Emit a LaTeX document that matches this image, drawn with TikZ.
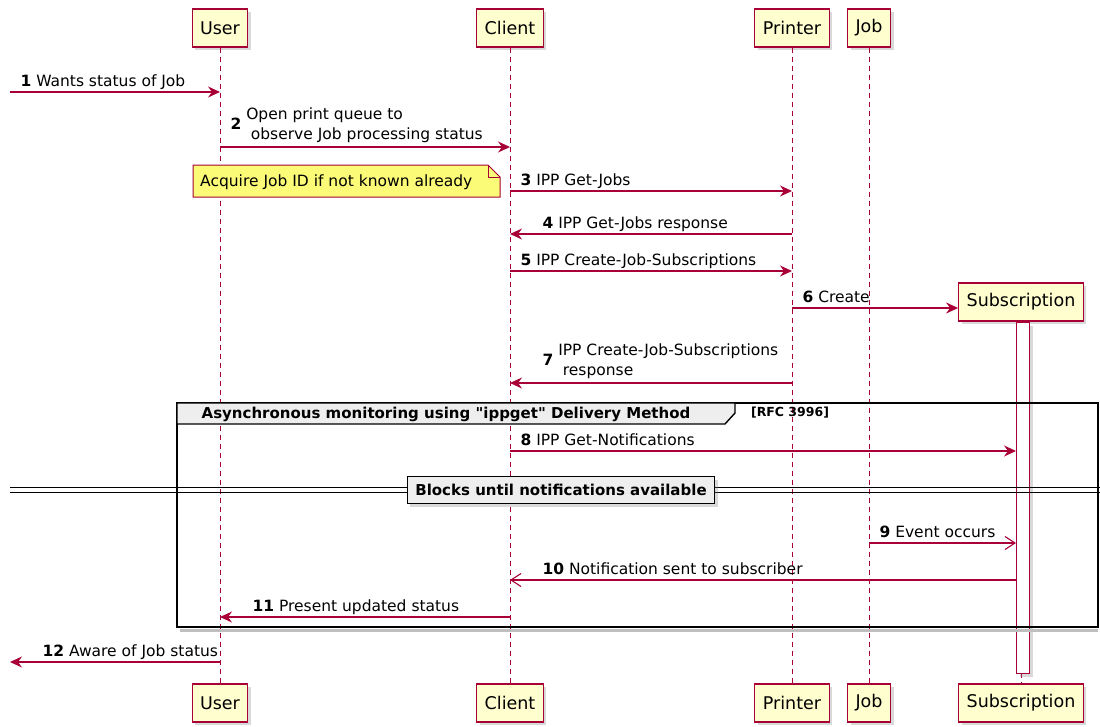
\documentclass[tikz,border=0pt]{standalone}
\usepackage{fontspec}
\setmainfont{DejaVu Sans}
\usepackage{tikz}
\usetikzlibrary{arrows.meta, shadows, positioning}

\definecolor{umlred}{HTML}{A80036}
\definecolor{umlbox}{HTML}{FEFECE}
\definecolor{umlnote}{HTML}{FBFB77}
\definecolor{umlgrey}{HTML}{EEEEEE}

\tikzset{
    actor/.style={draw=umlred, fill=umlbox, line width=1.1pt, minimum height=38pt,
        inner xsep=8pt, font=\fontsize{17.5}{19}\selectfont,
        drop shadow={shadow xshift=3pt, shadow yshift=-3pt, opacity=0.3}},
    lifeline/.style={umlred, line width=0.9pt, dash pattern=on 5pt off 4pt},
    actbar/.style={draw=umlred, fill=white, line width=1pt, inner sep=0pt,
        drop shadow={shadow xshift=3pt, shadow yshift=-3pt, opacity=0.3}},
    msg/.style={umlred, line width=1.1pt, -{Stealth[length=12pt, width=11pt, inset=4pt]}},
    amsg/.style={umlred, line width=1.1pt, -{Straight Barb[length=10pt, width=13pt]}},
    lbl/.style={black, font=\fontsize{15.5}{19.5}\selectfont, anchor=base west,
        inner sep=0pt, xshift=10pt, yshift=6pt},
    lblback/.style={lbl, xshift=22pt},
    twolines/.style={anchor=south west, yshift=-4.5pt},
    notebox/.style={draw=umlred, fill=umlnote, line width=1pt},
    frame/.style={draw=black, line width=1.6pt},
    tab/.style={draw=black, fill=umlgrey, line width=1.4pt},
    divbox/.style={draw=black, fill=umlgrey, line width=1.4pt, minimum height=27pt,
        inner xsep=8pt, font=\bfseries\fontsize{15}{17}\selectfont,
        drop shadow={shadow xshift=3pt, shadow yshift=-3pt, opacity=0.3}}
}

\begin{document}
\begin{tikzpicture}[x=1pt, y=-1pt]
    \useasboundingbox (0,0) rectangle (1100,726);

    % 1. Participants, top and bottom
    \foreach \p/\t/\x in {user/User/220, client/Client/510, printer/Printer/792, job/Job/869} {
        \node[actor] (\p T) at (\x,28) {\t};
        \node[actor] (\p B) at (\x,703) {\t};
    }
    \node[actor] (subsT) at (1021,302) {Subscription};
    \node[actor] (subsB) at (1021,703) {Subscription};

    % 2. Lifelines and activation
    \foreach \p in {user,client,printer,job,subs} {
        \draw[lifeline] (\p T.south) -- (\p B.north);
    }
    \node[actbar, anchor=north west, minimum width=13pt, minimum height=351pt] (act) at (1016,322) {};

    % 3. Points on the lifelines for each message
    \foreach \i/\y in {1/92, 2/147, 3/191, 4/234, 5/271, 6/308, 7/383, 8/451, 9/543, 10/580, 11/617, 12/662} {
        \foreach \p in {user,client,printer,job} {
            \path (\p T |- 0,\y) coordinate (\p\i);
        }
        \path (act.west |- 0,\y) coordinate (subs\i);
        \path (10,\y) coordinate (edge\i);
    }

    % 4. Note
    \draw[notebox] (193,165) -- (488,165) -- (500,177) |- (193,197) -- cycle;
    \draw[umlred, line width=1pt] (488,165) |- (500,177);
    \node[font=\fontsize{15.5}{17}\selectfont, anchor=west, inner sep=0pt] (note) at (200,182) {Acquire Job ID if not known already};

    % 5. Group frame
    \draw[black!25, line width=3pt] (180,630) -- (1098,630);
    \draw[frame] (177,403) rectangle (1098,627);
    \draw[tab] (177,403) -- (735,403) -- (735,413) -- (725,424) -- (177,424) -- cycle;
    \node[font=\bfseries\fontsize{15}{17}\selectfont] (loopT) at (446,414)
        {Asynchronous monitoring using \textquotedbl ippget\textquotedbl{} Delivery Method};
    \node[font=\bfseries\fontsize{12.5}{14}\selectfont] (rfc) at (790,413) {[RFC 3996]};

    % 6. Divider
    \draw[black, line width=1pt] (10,487) -- (1100,487);
    \draw[black, line width=1pt] (10,492) -- (1100,492);
    \node[divbox] (wait) at (561,490) {Blocks until notifications available};

    % 7. Messages
    \draw[msg] (edge1) node[lbl] {\textbf{1} Wants status of Job} -- (user1);
    \draw[msg] (user2) node[lbl, twolines] {\textbf{2} \begin{tabular}{@{}l@{}}Open print queue to\\\hspace{0.3em}observe Job processing status\end{tabular}} -- (client2);
    \draw[msg] (client3) node[lbl] {\textbf{3} IPP Get-Jobs} -- (printer3);
    \draw[msg] (printer4) -- (client4) node[lblback] {\textbf{4} IPP Get-Jobs response};
    \draw[msg] (client5) node[lbl] {\textbf{5} IPP Create-Job-Subscriptions} -- (printer5);
    \draw[msg] (printer6) node[lbl] {\textbf{6} Create} -- (printer6 -| subsT.west);
    \draw[msg] (printer7) -- (client7) node[lblback, twolines] {\textbf{7} \begin{tabular}{@{}l@{}}IPP Create-Job-Subscriptions\\\hspace{0.3em}response\end{tabular}};
    \draw[msg] (client8) node[lbl] {\textbf{8} IPP Get-Notifications} -- (subs8);
    \draw[amsg] (job9) node[lbl] {\textbf{9} Event occurs} -- (subs9);
    \draw[amsg] (subs10) -- (client10) node[lblback] {\textbf{10} Notification sent to subscriber};
    \draw[msg] (client11) -- (user11) node[lblback] {\textbf{11} Present updated status};
    \draw[msg] (user12) -- (edge12) node[lblback] {\textbf{12} Aware of Job status};
\end{tikzpicture}
\end{document}
